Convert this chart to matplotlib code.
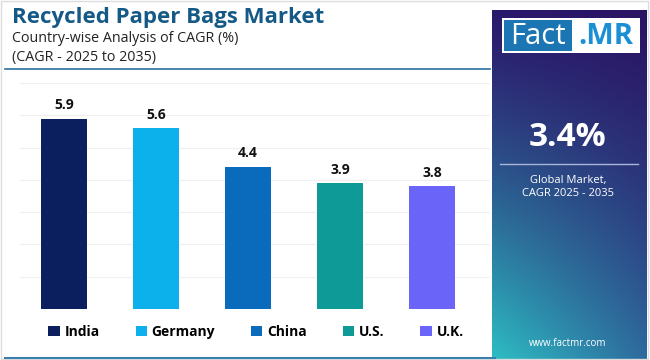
import numpy as np
import matplotlib
matplotlib.use("Agg")
import matplotlib.pyplot as plt
from matplotlib.patches import Rectangle, Patch
from matplotlib.colors import to_rgb

countries = ["India", "Germany", "China", "U.S.", "U.K."]
cagr = [5.9, 5.6, 4.4, 3.9, 3.8]
colors = ["#0b1f5e", "#0cb1ec", "#0a6bbd", "#0e9a96", "#6a64f8"]
global_cagr = "3.4%"

W, H = 650, 360
plt.rcParams['font.family'] = ['Open Sans', 'DejaVu Sans']

fig = plt.figure(figsize=(W / 100, H / 100), dpi=100)


def fx(x):
    return x / W


def fy(y):
    return 1 - y / H


# outer light border
fig.patches.append(Rectangle((0.002, 0.003), 0.995, 0.994, transform=fig.transFigure,
                             fill=False, edgecolor="#dcdcdc", lw=1))

# bar chart
ax = fig.add_axes([fx(20), fy(309), fx(470), (309 - 83) / H])
x = np.arange(len(countries))
ax.bar(x, cagr, width=0.5, color=colors, zorder=3)
for xi, v in zip(x, cagr):
    ax.text(xi, v + 0.2, f"{v}", ha="center", va="bottom", fontsize=10,
            fontweight="bold", color="#111111")
ax.set_ylim(0, 7)
ax.set_xlim(-0.48, 4.63)
ax.set_yticks(range(0, 8))
ax.yaxis.grid(True, color="#efefef", lw=0.8)
ax.set_xticks([])
ax.tick_params(left=False, labelleft=False)
for s in ax.spines.values():
    s.set_visible(False)

# titles
fig.text(fx(12), fy(17), "Recycled Paper Bags Market", fontsize=16, fontweight="bold",
         color="#155a86", va="center", ha="left")
fig.text(fx(12), fy(39), "Country-wise Analysis of CAGR (%)", fontsize=10.3,
         color="#222222", va="center", ha="left")
fig.text(fx(12), fy(58), "(CAGR - 2025 to 2035)", fontsize=10.3,
         color="#222222", va="center", ha="left")
fig.add_artist(plt.Line2D([fx(5), fx(490)], [fy(69), fy(69)], color="#2a6f9e", lw=1.2))

# legend
handles = [Patch(facecolor=c, label=n) for c, n in zip(colors, countries)]
leg = fig.legend(handles=handles, loc="center", bbox_to_anchor=(fx(256), fy(332)),
                 ncol=5, frameon=False, handlelength=0.8, handleheight=0.8,
                 handletextpad=0.35, columnspacing=2.6,
                 prop={"weight": "bold", "size": 10})

# bottom accent line
fig.add_artist(plt.Line2D([fx(5), fx(495)], [fy(358), fy(358)], color="#3a7fae", lw=1.5))

# right panel with gradient
pax = fig.add_axes([fx(492), 0, fx(155), fy(10)])
ny, nx = 200, 60
tl, tr = np.array(to_rgb("#2b1a6c")), np.array(to_rgb("#2a1464"))
bl, br = np.array(to_rgb("#2dbec4")), np.array(to_rgb("#2e6b9e"))
yy = np.linspace(0, 1, ny)[:, None, None]
xx = np.linspace(0, 1, nx)[None, :, None]
t = np.clip(yy ** 1.3, 0, 1)
top = tl * (1 - xx) + tr * xx
bot = bl * (1 - xx) + br * xx
img = top * (1 - t) + bot * t
pax.imshow(img, aspect="auto", extent=[0, 1, 1, 0])
pax.set_axis_off()

# logo
fig.patches.append(Rectangle((fx(502), fy(53)), fx(138), (53 - 18) / H,
                             transform=fig.transFigure, facecolor="white", edgecolor="none"))
fig.patches.append(Rectangle((fx(504), fy(51)), fx(68), (51 - 20) / H,
                             transform=fig.transFigure, facecolor="#1c76b3", edgecolor="none"))
fig.text(fx(538), fy(36), "Fact", fontsize=21, color="white", ha="center", va="center")
fig.text(fx(606), fy(36), ".MR", fontsize=21, color="#1a8fd4", fontweight="bold",
         ha="center", va="center")

fig.text(fx(568), fy(138), global_cagr, fontsize=24, fontweight="bold", color="white",
         ha="center", va="center")
fig.add_artist(plt.Line2D([fx(500), fx(638)], [fy(164), fy(164)], color="#a9b6d8", lw=1))
fig.text(fx(568), fy(180), "Global Market,", fontsize=8, color="white", ha="center", va="center")
fig.text(fx(568), fy(194), "CAGR 2025 - 2035", fontsize=8, color="white", ha="center", va="center")
fig.text(fx(568), fy(343), "www.factmr.com", fontsize=7, color="white", ha="center", va="center")

fig.savefig("out.png", dpi=100)
